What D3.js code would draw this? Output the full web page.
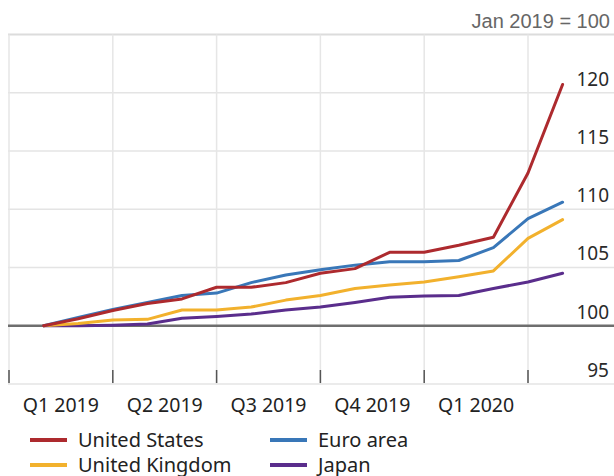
<!DOCTYPE html>
<html>
<head>
<meta charset="utf-8">
<script src="https://cdn.jsdelivr.net/npm/d3@7"></script>
<style>
  html, body { margin: 0; padding: 0; background: #fff; }
  svg { display: block; }
</style>
</head>
<body>
<div id="chart"></div>
<script>
// ---- Data (monthly index, Jan 2019 = 100) ----
const months = ["Jan 2019","Feb 2019","Mar 2019","Apr 2019","May 2019","Jun 2019","Jul 2019","Aug 2019",
                "Sep 2019","Oct 2019","Nov 2019","Dec 2019","Jan 2020","Feb 2020","Mar 2020","Apr 2020"];
const unitedStates  = [100.0, 100.6, 101.3, 101.9, 102.3, 103.3, 103.3, 103.7, 104.5, 104.9, 106.3, 106.3, 106.9, 107.6, 113.1, 120.7];
const euroArea      = [100.0, 100.7, 101.4, 102.0, 102.6, 102.8, 103.7, 104.35, 104.8, 105.2, 105.5, 105.5, 105.6, 106.7, 109.2, 110.6];
const unitedKingdom = [100.0, 100.2, 100.5, 100.55, 101.35, 101.35, 101.6, 102.2, 102.6, 103.2, 103.5, 103.75, 104.2, 104.7, 107.5, 109.1];
const japan         = [100.0, 100.0, 100.05, 100.15, 100.65, 100.8, 101.0, 101.35, 101.6, 102.0, 102.45, 102.55, 102.6, 103.2, 103.75, 104.5];
const quarterLabels = ["Q1 2019", "Q2 2019", "Q3 2019", "Q4 2019", "Q1 2020"];
const yTicks = [95, 100, 105, 110, 115, 120];
const seriesNames = ["United States", "Euro area", "United Kingdom", "Japan"];
const seriesColors = ["#ad2a2e", "#3977b8", "#f2b12d", "#5a2d8c"];
const unitNote = "Jan 2019 = 100";

const series = [unitedStates, euroArea, unitedKingdom, japan].map((v, i) => ({
  name: seriesNames[i], color: seriesColors[i], values: v
}));

const W = 614, H = 476;
const svg = d3.select("#chart").append("svg").attr("width", W).attr("height", H);

// month-boundary index scale: 0 = start of Jan 2019
const x = d3.scaleLinear().domain([0, 15]).range([9, 528]);
const y = d3.scaleLinear().domain([95, 125]).range([384, 34.4]);
const plotLeft = 8, plotRight = 614;

// horizontal gridlines
svg.append("g").selectAll("line").data(yTicks.filter(t => t !== 100)).join("line")
  .attr("x1", plotLeft).attr("x2", plotRight)
  .attr("y1", d => y(d)).attr("y2", d => y(d))
  .attr("stroke", "#e4e4e4").attr("stroke-width", 1.5);

// top border
svg.append("line").attr("x1", plotLeft).attr("x2", plotRight)
  .attr("y1", y(125)).attr("y2", y(125))
  .attr("stroke", "#dcdcdc").attr("stroke-width", 2);

// vertical gridlines at quarter starts
const quarterStarts = d3.range(0, 16, 3);
svg.append("g").selectAll("line").data(quarterStarts).join("line")
  .attr("x1", d => x(d)).attr("x2", d => x(d))
  .attr("y1", y(125)).attr("y2", y(95))
  .attr("stroke", "#e6e6e6").attr("stroke-width", 1.5);

// tick marks at bottom
svg.append("g").selectAll("line").data(quarterStarts).join("line")
  .attr("x1", d => x(d)).attr("x2", d => x(d))
  .attr("y1", y(95) - 14).attr("y2", y(95) - 1)
  .attr("stroke", "#555").attr("stroke-width", 1.5);

// baseline 100
svg.append("line").attr("x1", plotLeft).attr("x2", plotRight)
  .attr("y1", y(100)).attr("y2", y(100))
  .attr("stroke", "#6e6e6e").attr("stroke-width", 2.5);

// y labels (right side, above gridlines)
svg.append("g").selectAll("text").data(yTicks).join("text")
  .attr("x", 609).attr("y", d => y(d) - 7)
  .attr("text-anchor", "end")
  .attr("font-family", "'Noto Sans', 'Open Sans', sans-serif")
  .attr("font-size", 19).attr("fill", "#2a2a2a")
  .text(d => d);

// x labels centered in quarters
svg.append("g").selectAll("text").data(quarterLabels).join("text")
  .attr("x", (d, i) => x(i * 3 + 1.5))
  .attr("y", 412)
  .attr("text-anchor", "middle")
  .attr("font-family", "'Noto Sans', 'Open Sans', sans-serif")
  .attr("font-size", 19.5).attr("fill", "#222")
  .text(d => d);

// unit note
svg.append("text").attr("x", 610).attr("y", 28)
  .attr("text-anchor", "end")
  .attr("font-family", "'Liberation Sans', Arial, sans-serif")
  .attr("font-size", 20).attr("fill", "#666")
  .text(unitNote);

// lines: points at month ends
const line = d3.line().x((d, i) => x(i + 1)).y(d => y(d)).curve(d3.curveLinear);
// draw in order: Japan, UK, Euro, US so red on top
[3, 2, 1, 0].forEach(k => {
  svg.append("path").datum(series[k].values)
    .attr("d", line)
    .attr("fill", "none")
    .attr("stroke", series[k].color)
    .attr("stroke-width", 3)
    .attr("stroke-linejoin", "round")
    .attr("stroke-linecap", "round");
});

// legend
const legendPos = [[30, 440], [270, 440], [30, 465], [270, 465]];
const lg = svg.append("g").selectAll("g").data(series).join("g")
  .attr("transform", (d, i) => `translate(${legendPos[i][0]},${legendPos[i][1]})`);
lg.append("line").attr("x1", 0).attr("x2", 37).attr("y1", 0).attr("y2", 0)
  .attr("stroke", d => d.color).attr("stroke-width", 4);
lg.append("text").attr("x", 48).attr("y", 7)
  .attr("font-family", "'Noto Sans', 'Open Sans', sans-serif")
  .attr("font-size", 20).attr("fill", "#222")
  .text(d => d.name);
</script>
</body>
</html>
